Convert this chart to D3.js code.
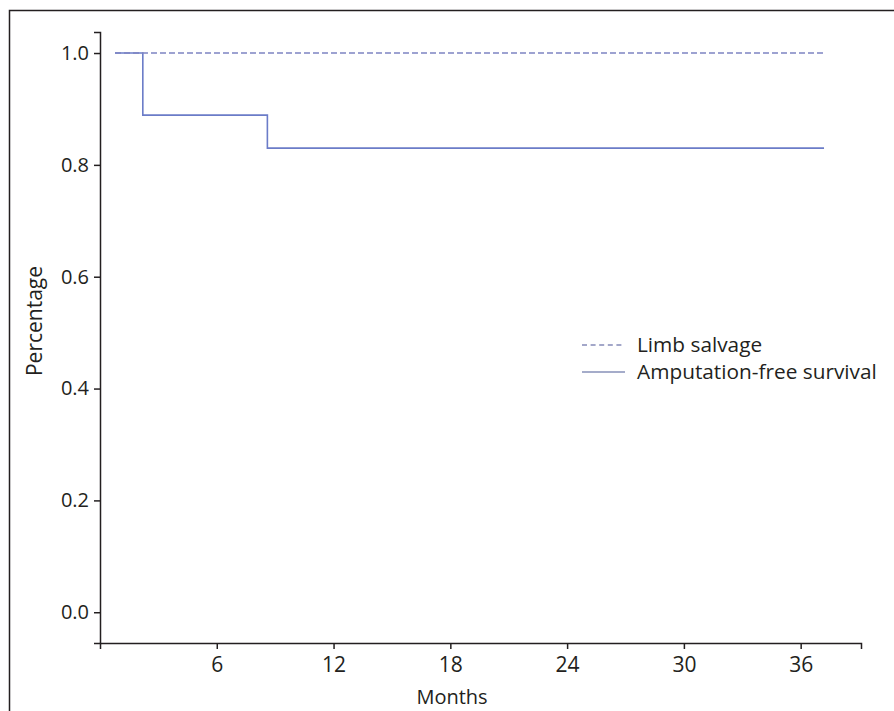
<!DOCTYPE html>
<html>
<head>
<meta charset="utf-8">
<script src="https://cdn.jsdelivr.net/npm/d3@7"></script>
<style>
  body { margin: 0; background: #fff; }
  text { font-family: "Open Sans", "Noto Sans", sans-serif; fill: #231f20; }
</style>
</head>
<body>
<div id="viz"></div>
<script>
const width = 894;
const height = 711;

// Kaplan-Meier steps
const limbMonths = [0.77, 37.2];
const limbValues = [1.0, 1.0];
const afsMonths = [0.77, 2.2, 8.6, 37.2];
const afsValues = [1.0, 0.889, 0.83, 0.83];

const xTicks = [6, 12, 18, 24, 30, 36];
const yTicks = [0, 0.2, 0.4, 0.6, 0.8, 1.0];

const seriesNames = ["Limb salvage", "Amputation-free survival"];

const fontSize = 20;

const svg = d3.select("#viz")
    .append("svg")
    .attr("width", width)
    .attr("height", height);

// outer frame, cut by the window on right and bottom
svg.append("rect")
    .attr("x", 9.5)
    .attr("y", 10.5)
    .attr("width", 900)
    .attr("height", 720)
    .attr("fill", "none")
    .attr("stroke", "#231f20")
    .attr("stroke-width", 1.5);

const xScale = d3.scaleLinear()
    .domain([0, 39.1])
    .range([100, 861]);

const yScale = d3.scaleLinear()
    .domain([-0.055, 1.0376])
    .range([643, 32]);

const xAxis = d3.axisBottom(xScale)
    .tickValues(xTicks)
    .tickFormat(d3.format("d"))
    .tickSizeOuter(0)
    .tickSize(6)
    .tickPadding(8);

const yAxis = d3.axisLeft(yScale)
    .tickValues(yTicks)
    .tickFormat(d3.format(".1f"))
    .tickSizeOuter(0)
    .tickSize(6)
    .tickPadding(5);

const xAxisG = svg.append("g")
    .attr("transform", "translate(0, 643)")
    .call(xAxis);

const yAxisG = svg.append("g")
    .attr("transform", "translate(100, 0)")
    .call(yAxis);

[xAxisG, yAxisG].forEach(g => {
    g.attr("font-size", fontSize).attr("font-family", null);
    g.selectAll(".domain").attr("stroke", "#231f20").attr("stroke-width", 1.5);
    g.selectAll(".tick line").attr("stroke", "#231f20").attr("stroke-width", 1.5);
    g.selectAll(".tick text")
        .attr("fill", "#231f20")
        .style("font-size", fontSize + "px");
});
xAxisG.selectAll(".tick text").style("font-size", "21px");

// axis labels
svg.append("text")
    .attr("x", 452)
    .attr("y", 704)
    .attr("text-anchor", "middle")
    .style("font-size", fontSize + "px")
    .text("Months");

svg.append("text")
    .attr("transform", "translate(42, 321) rotate(-90)")
    .attr("text-anchor", "middle")
    .style("font-size", "21px")
    .text("Percentage");

const line = d3.line()
    .curve(d3.curveStepAfter)
    .x(d => xScale(d[0]))
    .y(d => yScale(d[1]));

const limbData = limbMonths.map((m, i) => [m, limbValues[i]]);
const afsData = afsMonths.map((m, i) => [m, afsValues[i]]);

svg.append("path")
    .attr("d", line(afsData))
    .attr("fill", "none")
    .attr("stroke", "#6b7cc8")
    .attr("stroke-width", 1.6);

svg.append("path")
    .attr("d", line(limbData))
    .attr("fill", "none")
    .attr("stroke", "#7d84c2")
    .attr("stroke-width", 1.6)
    .attr("stroke-dasharray", "6,3");

// legend
const legend = svg.append("g")
    .attr("transform", "translate(582, 345)");

const legendStyles = [
    { color: "#858bb8", dash: "5,3.6" },
    { color: "#8790b8", dash: null }
];

seriesNames.forEach((name, i) => {
    const row = legend.append("g")
        .attr("transform", `translate(0, ${i * 27})`);
    row.append("line")
        .attr("x1", 0)
        .attr("x2", 43)
        .attr("y1", 0)
        .attr("y2", 0)
        .attr("stroke", legendStyles[i].color)
        .attr("stroke-width", 1.6)
        .attr("stroke-dasharray", legendStyles[i].dash);
    row.append("text")
        .attr("x", 55)
        .attr("y", 0)
        .attr("dy", "0.35em")
        .style("font-size", "20.8px")
        .text(name);
});
</script>
</body>
</html>
